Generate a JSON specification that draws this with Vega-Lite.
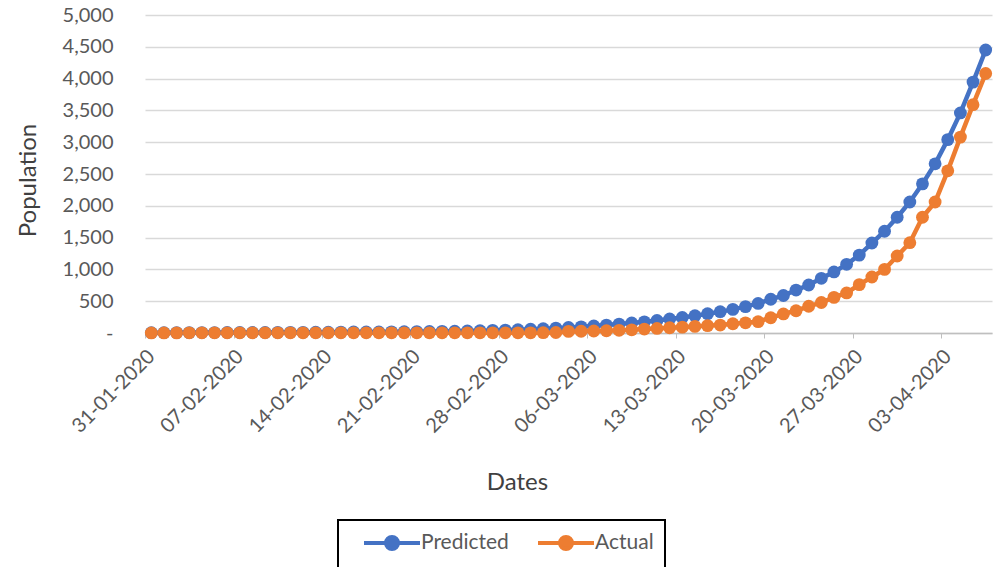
{
"$schema": "https://vega.github.io/schema/vega-lite/v6.json",
"width": 847, "height": 318,
"autosize": "none",
"padding": {"left": 145, "top": 15, "right": 2, "bottom": 234},
"background": "white",
"config": {"view": {"stroke": null}, "font": "Lato"},
"data": {"values": [
{"date":"2020-01-31T00:00","series":"Predicted","value":5},
{"date":"2020-02-01T00:00","series":"Predicted","value":5},
{"date":"2020-02-02T00:00","series":"Predicted","value":6},
{"date":"2020-02-03T00:00","series":"Predicted","value":6},
{"date":"2020-02-04T00:00","series":"Predicted","value":7},
{"date":"2020-02-05T00:00","series":"Predicted","value":7},
{"date":"2020-02-06T00:00","series":"Predicted","value":8},
{"date":"2020-02-07T00:00","series":"Predicted","value":8},
{"date":"2020-02-08T00:00","series":"Predicted","value":9},
{"date":"2020-02-09T00:00","series":"Predicted","value":9},
{"date":"2020-02-10T00:00","series":"Predicted","value":10},
{"date":"2020-02-11T00:00","series":"Predicted","value":11},
{"date":"2020-02-12T00:00","series":"Predicted","value":11},
{"date":"2020-02-13T00:00","series":"Predicted","value":12},
{"date":"2020-02-14T00:00","series":"Predicted","value":13},
{"date":"2020-02-15T00:00","series":"Predicted","value":14},
{"date":"2020-02-16T00:00","series":"Predicted","value":15},
{"date":"2020-02-17T00:00","series":"Predicted","value":16},
{"date":"2020-02-18T00:00","series":"Predicted","value":17},
{"date":"2020-02-19T00:00","series":"Predicted","value":18},
{"date":"2020-02-20T00:00","series":"Predicted","value":20},
{"date":"2020-02-21T00:00","series":"Predicted","value":21},
{"date":"2020-02-22T00:00","series":"Predicted","value":23},
{"date":"2020-02-23T00:00","series":"Predicted","value":25},
{"date":"2020-02-24T00:00","series":"Predicted","value":28},
{"date":"2020-02-25T00:00","series":"Predicted","value":32},
{"date":"2020-02-26T00:00","series":"Predicted","value":36},
{"date":"2020-02-27T00:00","series":"Predicted","value":41},
{"date":"2020-02-28T00:00","series":"Predicted","value":46},
{"date":"2020-02-29T00:00","series":"Predicted","value":52},
{"date":"2020-03-01T00:00","series":"Predicted","value":59},
{"date":"2020-03-02T00:00","series":"Predicted","value":67},
{"date":"2020-03-03T00:00","series":"Predicted","value":76},
{"date":"2020-03-04T00:00","series":"Predicted","value":86},
{"date":"2020-03-05T00:00","series":"Predicted","value":97},
{"date":"2020-03-06T00:00","series":"Predicted","value":110},
{"date":"2020-03-07T00:00","series":"Predicted","value":124},
{"date":"2020-03-08T00:00","series":"Predicted","value":140},
{"date":"2020-03-09T00:00","series":"Predicted","value":157},
{"date":"2020-03-10T00:00","series":"Predicted","value":176},
{"date":"2020-03-11T00:00","series":"Predicted","value":197},
{"date":"2020-03-12T00:00","series":"Predicted","value":220},
{"date":"2020-03-13T00:00","series":"Predicted","value":245},
{"date":"2020-03-14T00:00","series":"Predicted","value":272},
{"date":"2020-03-15T00:00","series":"Predicted","value":302},
{"date":"2020-03-16T00:00","series":"Predicted","value":335},
{"date":"2020-03-17T00:00","series":"Predicted","value":372},
{"date":"2020-03-18T00:00","series":"Predicted","value":415},
{"date":"2020-03-19T00:00","series":"Predicted","value":465},
{"date":"2020-03-20T00:00","series":"Predicted","value":530},
{"date":"2020-03-21T00:00","series":"Predicted","value":590},
{"date":"2020-03-22T00:00","series":"Predicted","value":675},
{"date":"2020-03-23T00:00","series":"Predicted","value":755},
{"date":"2020-03-24T00:00","series":"Predicted","value":860},
{"date":"2020-03-25T00:00","series":"Predicted","value":960},
{"date":"2020-03-26T00:00","series":"Predicted","value":1080},
{"date":"2020-03-27T00:00","series":"Predicted","value":1225},
{"date":"2020-03-28T00:00","series":"Predicted","value":1415},
{"date":"2020-03-29T00:00","series":"Predicted","value":1600},
{"date":"2020-03-30T00:00","series":"Predicted","value":1820},
{"date":"2020-03-31T00:00","series":"Predicted","value":2060},
{"date":"2020-04-01T00:00","series":"Predicted","value":2345},
{"date":"2020-04-02T00:00","series":"Predicted","value":2660},
{"date":"2020-04-03T00:00","series":"Predicted","value":3040},
{"date":"2020-04-04T00:00","series":"Predicted","value":3460},
{"date":"2020-04-05T00:00","series":"Predicted","value":3945},
{"date":"2020-04-06T00:00","series":"Predicted","value":4450},
{"date":"2020-01-31T00:00","series":"Actual","value":1},
{"date":"2020-02-01T00:00","series":"Actual","value":1},
{"date":"2020-02-02T00:00","series":"Actual","value":2},
{"date":"2020-02-03T00:00","series":"Actual","value":3},
{"date":"2020-02-04T00:00","series":"Actual","value":3},
{"date":"2020-02-05T00:00","series":"Actual","value":3},
{"date":"2020-02-06T00:00","series":"Actual","value":3},
{"date":"2020-02-07T00:00","series":"Actual","value":3},
{"date":"2020-02-08T00:00","series":"Actual","value":3},
{"date":"2020-02-09T00:00","series":"Actual","value":3},
{"date":"2020-02-10T00:00","series":"Actual","value":3},
{"date":"2020-02-11T00:00","series":"Actual","value":3},
{"date":"2020-02-12T00:00","series":"Actual","value":3},
{"date":"2020-02-13T00:00","series":"Actual","value":3},
{"date":"2020-02-14T00:00","series":"Actual","value":3},
{"date":"2020-02-15T00:00","series":"Actual","value":3},
{"date":"2020-02-16T00:00","series":"Actual","value":3},
{"date":"2020-02-17T00:00","series":"Actual","value":3},
{"date":"2020-02-18T00:00","series":"Actual","value":3},
{"date":"2020-02-19T00:00","series":"Actual","value":3},
{"date":"2020-02-20T00:00","series":"Actual","value":3},
{"date":"2020-02-21T00:00","series":"Actual","value":3},
{"date":"2020-02-22T00:00","series":"Actual","value":3},
{"date":"2020-02-23T00:00","series":"Actual","value":3},
{"date":"2020-02-24T00:00","series":"Actual","value":3},
{"date":"2020-02-25T00:00","series":"Actual","value":3},
{"date":"2020-02-26T00:00","series":"Actual","value":3},
{"date":"2020-02-27T00:00","series":"Actual","value":3},
{"date":"2020-02-28T00:00","series":"Actual","value":3},
{"date":"2020-02-29T00:00","series":"Actual","value":3},
{"date":"2020-03-01T00:00","series":"Actual","value":3},
{"date":"2020-03-02T00:00","series":"Actual","value":5},
{"date":"2020-03-03T00:00","series":"Actual","value":8},
{"date":"2020-03-04T00:00","series":"Actual","value":25},
{"date":"2020-03-05T00:00","series":"Actual","value":28},
{"date":"2020-03-06T00:00","series":"Actual","value":31},
{"date":"2020-03-07T00:00","series":"Actual","value":36},
{"date":"2020-03-08T00:00","series":"Actual","value":42},
{"date":"2020-03-09T00:00","series":"Actual","value":50},
{"date":"2020-03-10T00:00","series":"Actual","value":62},
{"date":"2020-03-11T00:00","series":"Actual","value":72},
{"date":"2020-03-12T00:00","series":"Actual","value":82},
{"date":"2020-03-13T00:00","series":"Actual","value":92},
{"date":"2020-03-14T00:00","series":"Actual","value":104},
{"date":"2020-03-15T00:00","series":"Actual","value":116},
{"date":"2020-03-16T00:00","series":"Actual","value":125},
{"date":"2020-03-17T00:00","series":"Actual","value":145},
{"date":"2020-03-18T00:00","series":"Actual","value":160},
{"date":"2020-03-19T00:00","series":"Actual","value":178},
{"date":"2020-03-20T00:00","series":"Actual","value":240},
{"date":"2020-03-21T00:00","series":"Actual","value":300},
{"date":"2020-03-22T00:00","series":"Actual","value":350},
{"date":"2020-03-23T00:00","series":"Actual","value":420},
{"date":"2020-03-24T00:00","series":"Actual","value":480},
{"date":"2020-03-25T00:00","series":"Actual","value":560},
{"date":"2020-03-26T00:00","series":"Actual","value":630},
{"date":"2020-03-27T00:00","series":"Actual","value":760},
{"date":"2020-03-28T00:00","series":"Actual","value":880},
{"date":"2020-03-29T00:00","series":"Actual","value":1000},
{"date":"2020-03-30T00:00","series":"Actual","value":1210},
{"date":"2020-03-31T00:00","series":"Actual","value":1420},
{"date":"2020-04-01T00:00","series":"Actual","value":1820},
{"date":"2020-04-02T00:00","series":"Actual","value":2060},
{"date":"2020-04-03T00:00","series":"Actual","value":2550},
{"date":"2020-04-04T00:00","series":"Actual","value":3080},
{"date":"2020-04-05T00:00","series":"Actual","value":3590},
{"date":"2020-04-06T00:00","series":"Actual","value":4080}
]},
"mark": {"type": "line", "strokeWidth": 4.5, "point": {"filled": true, "size": 165}},
"encoding": {
  "x": {"field": "date", "type": "temporal",
    "scale": {"domain": [{"year":2020,"month":1,"date":30,"hours":12},{"year":2020,"month":4,"date":6,"hours":12}]},
    "axis": {
      "values": [
        {"year":2020,"month":1,"date":31},{"year":2020,"month":2,"date":7},{"year":2020,"month":2,"date":14},
        {"year":2020,"month":2,"date":21},{"year":2020,"month":2,"date":28},{"year":2020,"month":3,"date":6},
        {"year":2020,"month":3,"date":13},{"year":2020,"month":3,"date":20},{"year":2020,"month":3,"date":27},
        {"year":2020,"month":4,"date":3}],
      "format": "%d-%m-%Y",
      "labelAngle": -45, "labelAlign": "right", "labelBaseline": "middle",
      "labelFontSize": 20, "labelColor": "#595959", "labelPadding": 15,
      "labelOverlap": false, "labelBound": false, "labelFlush": false,
      "tickSize": 5, "tickColor": "#bfbfbf", "domainColor": "#bfbfbf", "domainWidth": 1.3,
      "grid": false, "tickOffset": -6.3, "labelOffset": 6.3,
      "title": "Dates", "titleFontSize": 24, "titleFontWeight": "normal", "titleColor": "#404040",
      "titleX": 372, "titleY": 149, "titleAlign": "center", "titleBaseline": "middle"
    }
  },
  "y": {"field": "value", "type": "quantitative",
    "scale": {"domain": [0, 5000]},
    "axis": {
      "values": [0,500,1000,1500,2000,2500,3000,3500,4000,4500,5000],
      "labelExpr": "datum.value == 0 ? '-\u00a0\u00a0\u00a0' : format(datum.value, ',')",
      "domain": false, "ticks": false, "gridColor": "#d9d9d9", "gridWidth": 1.3,
      "labelFontSize": 20, "labelColor": "#595959", "labelPadding": 32,
      "title": "Population", "titleFontSize": 24, "titleFontWeight": "normal", "titleColor": "#404040",
      "titleX": -117, "titleY": 165, "titleAngle": -90, "titleAlign": "center", "titleBaseline": "middle"
    }
  },
  "color": {"field": "series", "type": "nominal",
    "scale": {"domain": ["Predicted", "Actual"], "range": ["#4472C4", "#ED7D31"]},
    "legend": {
      "orient": "none", "legendX": 193, "legendY": 505, "direction": "horizontal", "title": null,
      "symbolType": "M-2.8,0L2.8,0M-0.6,0A0.6,0.6,0,1,1,0.6,0A0.6,0.6,0,1,1,-0.6,0Z",
      "symbolSize": 400, "symbolStrokeWidth": 4, "symbolOffset": 31,
      "labelFontSize": 21, "labelColor": "#595959", "labelOffset": 17,
      "columnPadding": 14, "padding": 11, "strokeColor": "black", "cornerRadius": 0,
      "encode": {
        "symbols": {"update": {"fill": {"scale": "color", "field": "value"}, "stroke": {"scale": "color", "field": "value"}, "opacity": {"value": 1}}},
        "legend": {"update": {"strokeWidth": {"value": 2}}}
      }
    }
  }
}
}
